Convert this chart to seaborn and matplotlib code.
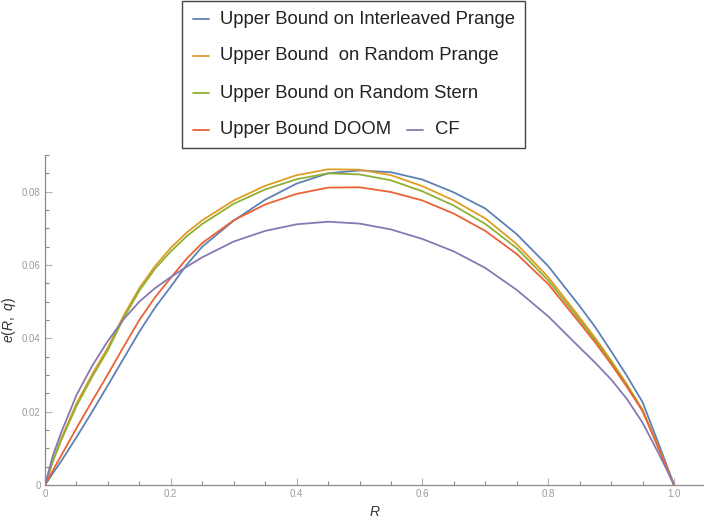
import numpy as np
import pandas as pd
import matplotlib
matplotlib.use("Agg")
import matplotlib.pyplot as plt
from matplotlib.lines import Line2D
from matplotlib.patches import Rectangle
from matplotlib.ticker import FixedLocator
import seaborn as sns

# ---------------- data ----------------
R = [0, 0.0125, 0.025, 0.05, 0.075, 0.1, 0.125, 0.15, 0.175, 0.2, 0.225, 0.25, 0.3,
     0.35, 0.4, 0.45, 0.5, 0.55, 0.6, 0.65, 0.7, 0.75, 0.8, 0.85, 0.875, 0.9,
     0.925, 0.95, 0.975, 0.9875, 1.0]

interleaved_prange = [0, 0.0032, 0.0063, 0.0130, 0.0200, 0.0272, 0.0345, 0.0418, 0.0484,
                      0.0541, 0.0600, 0.0650, 0.0721, 0.0778, 0.0822, 0.0850, 0.0858,
                      0.0853, 0.0833, 0.0798, 0.0754, 0.0684, 0.0597, 0.0488, 0.0430,
                      0.0365, 0.0298, 0.0226, 0.0115, 0.0058, 0]
random_prange = [0, 0.0066, 0.0124, 0.0222, 0.0302, 0.0375, 0.0462, 0.0537, 0.0597,
                 0.0647, 0.0688, 0.0722, 0.0776, 0.0816, 0.0845, 0.0861, 0.0860,
                 0.0845, 0.0815, 0.0776, 0.0727, 0.0657, 0.0567, 0.0457, 0.0400,
                 0.0340, 0.0275, 0.0205, 0.0104, 0.0052, 0]
random_stern = [0, 0.0064, 0.0119, 0.0215, 0.0295, 0.0368, 0.0455, 0.0530, 0.0590,
                0.0637, 0.0678, 0.0712, 0.0767, 0.0806, 0.0834, 0.0850, 0.0847,
                0.0831, 0.0801, 0.0762, 0.0712, 0.0646, 0.0558, 0.0450, 0.0395,
                0.0335, 0.0271, 0.0203, 0.0103, 0.0052, 0]
doom = [0, 0.0040, 0.0078, 0.0155, 0.0229, 0.0302, 0.0377, 0.0450, 0.0512,
        0.0565, 0.0617, 0.0660, 0.0722, 0.0765, 0.0794, 0.0811, 0.0812,
        0.0799, 0.0776, 0.0740, 0.0693, 0.0630, 0.0548, 0.0442, 0.0388,
        0.0330, 0.0268, 0.0202, 0.0102, 0.0051, 0]
cf = [0, 0.0080, 0.0140, 0.0245, 0.0325, 0.0393, 0.0452, 0.0500, 0.0537,
      0.0567, 0.0595, 0.0621, 0.0664, 0.0693, 0.0711, 0.0718, 0.0713,
      0.0697, 0.0671, 0.0637, 0.0592, 0.0532, 0.0460, 0.0375, 0.0333,
      0.0288, 0.0235, 0.0170, 0.0088, 0.0045, 0]

labels = ["Upper Bound on Interleaved Prange",
          "Upper Bound  on Random Prange",
          "Upper Bound on Random Stern",
          "Upper Bound DOOM",
          "CF"]
series = [interleaved_prange, random_prange, random_stern, doom, cf]
colors = ["#5E81B5", "#E19C24", "#8FB032", "#EB6235", "#8778B3"]

x_major = [0, 0.2, 0.4, 0.6, 0.8, 1.0]
x_major_labels = ["0", "0.2", "0.4", "0.6", "0.8", "1.0"]
y_major = [0, 0.02, 0.04, 0.06, 0.08]
y_major_labels = ["0", "0.02", "0.04", "0.06", "0.08"]

df = pd.concat([pd.DataFrame({"R": R, "e": s, "series": lab})
                for s, lab in zip(series, labels)], ignore_index=True)

# ---------------- style ----------------
sns.set_style("white")
plt.rcParams["font.family"] = ["Liberation Sans", "DejaVu Sans"]
plt.rcParams["mathtext.fontset"] = "custom"
plt.rcParams["mathtext.rm"] = "Liberation Sans"
plt.rcParams["mathtext.it"] = "Liberation Sans:italic"

W, H = 704, 524
fig = plt.figure(figsize=(W / 100, H / 100), dpi=100)
ax = fig.add_axes([45 / W, (H - 485) / H, (W - 45) / W, (485 - 155) / H])

sns.lineplot(data=df, x="R", y="e", hue="series", hue_order=labels,
             palette=colors, estimator=None, sort=False, linewidth=1.3,
             legend=False, ax=ax)

ax.set_xlim(0, 659 / 629)
ax.set_ylim(0, 0.090)

axis_col = "#8a8a8a"
for sp in ["top", "right"]:
    ax.spines[sp].set_visible(False)
for sp in ["left", "bottom"]:
    ax.spines[sp].set_color(axis_col)
    ax.spines[sp].set_linewidth(0.9)

ax.set_xticks(x_major)
ax.set_xticklabels(x_major_labels)
ax.set_yticks(y_major)
ax.set_yticklabels(y_major_labels)
ax.xaxis.set_minor_locator(FixedLocator([v for v in np.arange(0.05, 1.0, 0.05)
                                         if abs(v / 0.2 - round(v / 0.2)) > 1e-6]))
ax.yaxis.set_minor_locator(FixedLocator([v for v in np.arange(0.005, 0.0901, 0.005)
                                         if abs(v / 0.02 - round(v / 0.02)) > 1e-6]))
ax.tick_params(axis="both", which="major", direction="in", length=5, width=0.8,
               color="#b0b0b0", labelcolor="#9a9a9a", labelsize=7, pad=3)
ax.tick_params(axis="both", which="minor", direction="in", length=3, width=0.8,
               color=axis_col)
ax.tick_params(left=True, bottom=True, which="both")

ax.set_xlabel(r"$R$", fontsize=10, color="#333333", labelpad=4)
ax.set_ylabel(r"$e(R,\ q)$", fontsize=10, color="#333333")
ax.yaxis.set_label_coords(-0.041, 0.5)
ax.grid(False)

# ---------------- legend (box at top) ----------------
def fx(px):
    return px / W

def fy(py):
    return (H - py) / H

fig.add_artist(Rectangle((fx(182), fy(148)), fx(525) - fx(182), fy(1) - fy(148),
                         transform=fig.transFigure, fill=True, facecolor="white",
                         edgecolor="#444444", linewidth=1.0))
rows = [19, 56, 93, 130]
entries = [(0, 193, 220, rows[0]), (1, 193, 220, rows[1]), (2, 193, 220, rows[2]),
           (3, 193, 220, rows[3]), (4, 407, 435, rows[3])]
for idx, hx, tx, ry in entries:
    fig.add_artist(Line2D([fx(hx), fx(hx + 16)], [fy(ry), fy(ry)],
                          transform=fig.transFigure, color=colors[idx], linewidth=1.3))
    fig.text(fx(tx), fy(ry), labels[idx], fontsize=13.3, color="#222222",
             va="center", ha="left")

fig.savefig("out.png", dpi=100)
